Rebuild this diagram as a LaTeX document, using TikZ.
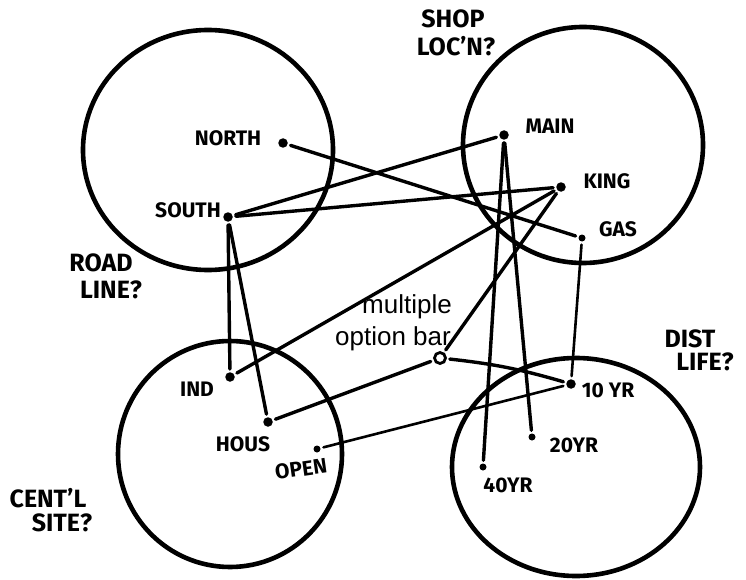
\documentclass[tikz,border=0pt]{standalone}
\usepackage{fontspec}
\setmainfont{Fira Sans}
\newfontfamily\helv{Liberation Sans}
\begin{document}
\begin{tikzpicture}[x=1pt,y=-1pt,
  rim/.style={line width=4.6pt},
  link/.style={line width=3.4pt, line cap=round, shorten >=3pt, shorten <=3pt},
  thinlink/.style={link, line width=2.6pt},
  bigdot/.style={circle, fill, inner sep=0pt, minimum size=9.5pt},
  smalldot/.style={circle, fill, inner sep=0pt, minimum size=7pt},
  optbar/.style={circle, draw, line width=2.8pt, inner sep=0pt, minimum size=11pt},
  inlab/.style={font=\fontsize{21}{21}\selectfont\bfseries, inner sep=0pt},
  outlab/.style={font=\fontsize{25}{25}\selectfont\bfseries, inner sep=0pt},
  plain/.style={font=\helv\fontsize{26}{26}\selectfont, inner sep=0pt, anchor=base east},
]
\useasboundingbox (0,0) rectangle (746,580);
\fill[white] (0,0) rectangle (746,580);

% hand-drawn rings
\draw[rim] (208,150) ellipse [x radius=125, y radius=120];
\draw[rim] (583,145) ellipse [x radius=120, y radius=118];
\draw[rim] (230,454) ellipse [x radius=112, y radius=113];
\draw[rim] (576,467) ellipse [x radius=124, y radius=109];

% option points
\node[bigdot] (north) at (283,143) {};
\node[bigdot] (south) at (228,217) {};
\node[bigdot] (main) at (504,135) {};
\node[bigdot] (king) at (561,187) {};
\node[smalldot] (gas) at (582,238) {};
\node[bigdot] (ind) at (230,377) {};
\node[bigdot] (hous) at (268,422) {};
\node[smalldot] (open) at (317,449) {};
\node[optbar] (bar) at (440,358) {};
\node[bigdot] (yr10) at (571,384) {};
\node[smalldot] (yr20) at (532,437) {};
\node[smalldot] (yr40) at (483,467) {};

% point labels
\node[inlab] (northlab) at (228,138) {NORTH};
\node[inlab] (southlab) at (188,210) {SOUTH};
\node[inlab] (mainlab) at (550,126) {MAIN};
\node[inlab] (kinglab) at (607,181) {KING};
\node[inlab] (gaslab) at (618,229) {GAS};
\node[inlab] (indlab) at (197,389) {IND};
\node[inlab] (houslab) at (243,444) {HOUS};
\node[inlab, rotate=8] (openlab) at (301,469) {OPEN};
\node[inlab] (yr10lab) at (608,390) {10 YR};
\node[inlab] (yr20lab) at (574,445) {20YR};
\node[inlab] (yr40lab) at (508,485) {40YR};

% question labels
\node[outlab] (shop) at (453,19) {SHOP};
\node[outlab] (locn) at (456,46) {LOC'N?};
\node[outlab] (road) at (101,263) {ROAD};
\node[outlab] (line) at (111,290) {LINE?};
\node[outlab] (centl) at (48,498) {CENT'L};
\node[outlab] (site) at (62,523) {SITE?};
\node[outlab] (dist) at (690,339) {DIST};
\node[outlab] (life) at (705,362) {LIFE?};

% multiple option bar caption
\node[plain] (mob1) at (452,313) {multiple};
\node[plain] (mob2) at (451,345) {option bar};

% connectors
\draw[link] (north) -- (gas);
\draw[link] (south) -- (main);
\draw[link] (south) -- (king);
\draw[link] (king) -- (ind);
\draw[link] (king) -- (bar);
\draw[link] (main) -- (yr40);
\draw[link] (main) -- (yr20);
\draw[thinlink] (gas) -- (yr10);
\draw[link] (south) -- (ind);
\draw[link] (south) -- (hous);
\draw[link] (bar) -- (hous);
\draw[link] (bar) to[bend left=5] (yr10);
\draw[thinlink] (open) -- (yr10);
\end{tikzpicture}
\end{document}
